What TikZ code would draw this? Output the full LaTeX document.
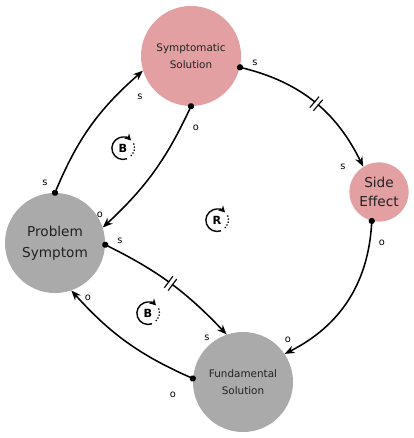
\documentclass[tikz,border=0pt]{standalone}
\usepackage{fontspec}
\setmainfont{DejaVu Sans}
\usetikzlibrary{arrows.meta,positioning}
\definecolor{cldpink}{RGB}{226,160,162}
\definecolor{cldgray}{RGB}{170,170,170}
\definecolor{cldtext}{RGB}{34,34,34}
\tikzstyle{problem} = [circle, minimum size=2.5cm, inner sep=0pt, align=center, fill=cldgray, text=cldtext, font=\fontsize{9.7}{15}\selectfont]
\tikzstyle{solution} = [circle, minimum size=2.5cm, inner sep=0pt, align=center, fill=cldpink, text=cldtext, font=\fontsize{7.4}{12}\selectfont]
\tikzstyle{link} = [line width=1.1pt, {Circle[length=4.4pt]}-{Stealth[length=7pt,width=5.5pt]}, shorten <=-2.2pt]
\tikzstyle{polarity} = [inner sep=0pt, font=\fontsize{7}{8}\selectfont]
\tikzstyle{delaymark} = [sloped, fill=white, inner sep=0pt, minimum width=0.08cm, minimum height=0.32cm]
\tikzstyle{loopmark} = [circle, inner sep=0pt, minimum size=0.56cm, font=\bfseries\fontsize{8}{9}\selectfont]

\begin{document}
\begin{tikzpicture}[x=0.025cm, y=0.025cm]
\useasboundingbox (0,0) rectangle (413,438);

% Variables
\node (symsol) [solution] at (191,382) {Symptomatic\\Solution};
\node (probsym) [problem] at (55,195) {Problem\\Symptom};
\node (sideeff) [solution, minimum size=1.48cm, font=\fontsize{9.7}{14}\selectfont] at (379,246) {Side\\Effect};
\node (fundsol) [problem, font=\fontsize{7.4}{12}\selectfont] at (243,56) {Fundamental\\Solution};

% Links
\draw[link] (probsym.90) to[bend left=13] (symsol.197);
\draw[link] (symsol.270) to[bend left=11] (probsym.18);
\draw[link] (symsol.-13) to[bend left=25] node[delaymark, pos=0.52] (delayse) {} (sideeff.122);
\draw[link] (sideeff.256) to[bend left=30] (fundsol.34);
\draw[link] (probsym.-2) to[bend left=10] node[delaymark, pos=0.5] (delayfs) {} (fundsol.109);
\draw[link] (fundsol.176) to[bend left=12] (probsym.289);

% Delay bars
\draw[line width=0.8pt] (delayse.north west) -- (delayse.south west) (delayse.north east) -- (delayse.south east);
\draw[line width=0.8pt] (delayfs.north west) -- (delayfs.south west) (delayfs.north east) -- (delayfs.south east);

% Polarities
\node (pol1a) [polarity] at (45,255) {s};
\node (pol1b) [polarity] at (140,341) {s};
\node (pol2a) [polarity] at (196,310) {o};
\node (pol2b) [polarity] at (100,223) {o};
\node (pol3a) [polarity] at (255,375) {s};
\node (pol3b) [polarity] at (343,271) {s};
\node (pol4a) [polarity] at (382,195) {o};
\node (pol4b) [polarity] at (288,98) {o};
\node (pol5a) [polarity] at (120,197) {s};
\node (pol5b) [polarity] at (207,100) {s};
\node (pol6a) [polarity] at (173,43) {o};
\node (pol6b) [polarity] at (88,140) {o};

% Loop markers
\foreach \name/\x/\y/\letter in {loopbone/123/290/B, loopr/217/218/R, loopbtwo/148/125/B} {
  \node (\name) [loopmark] at (\x,\y) {\letter};
  \draw[line width=1pt, -{Stealth[length=4.5pt,width=5pt]}] (\name.290) arc[start angle=290, end angle=45, radius=0.28cm];
  \draw[line width=1.3pt, line cap=round, dash pattern=on 0pt off 2.2pt] (\name.20) arc[start angle=20, end angle=-58, radius=0.28cm];
}
\end{tikzpicture}
\end{document}
